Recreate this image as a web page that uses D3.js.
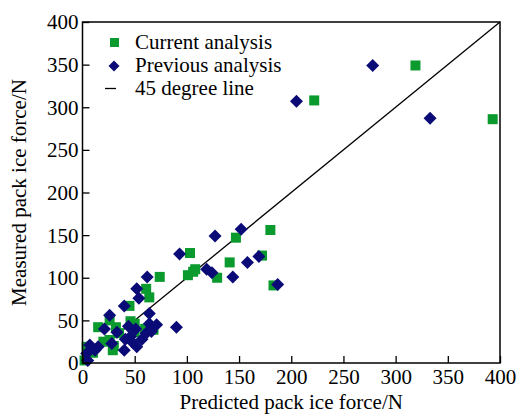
<!DOCTYPE html>
<html>
<head>
<meta charset="utf-8">
<style>
  body { margin: 0; background: #fff; }
  svg text { font-family: "Liberation Serif", "Times New Roman", serif; fill: #000; }
</style>
</head>
<body>
<div id="chart"></div>
<script src="https://cdn.jsdelivr.net/npm/d3@7"></script>
<script>
// current analysis (green squares): [predicted, measured]
var currentData = [
  [2,3],[4,19],[10,12],[15,42],[20,25],[26,27],[26,50],[29,15],[32,42],[35,35],
  [45,67],[46,49],[50,46],[50,36],[61,87],[64,77],[74,101],[68,39],[30,20],[60,40],
  [103,129],[101,103],[106,107],[108,110],[129,100],[141,118],[147,147],[180,156],
  [172,126],[183,91],[222,308],[319,349],[393,286]
];
// previous analysis (blue diamonds)
var previousData = [
  [4,11],[5,3],[7,21],[12,15],[15,19],[21,40],[26,56],[28,23],[33,36],[40,15],
  [41,28],[40,67],[44,43],[46,31],[48,24],[51,40],[52,19],[52,87],[54,76],[57,28],
  [61,35],[64,46],[64,58],[66,37],[71,45],[62,101],[90,42],[93,128],[119,110],
  [124,106],[127,149],[144,101],[152,157],[158,118],[169,125],[187,92],[205,307],
  [278,349],[333,287]
];
var xTicks = [0,50,100,150,200,250,300,350,400];
var yTicks = [0,50,100,150,200,250,300,350,400];
var legendLabels = ["Current analysis", "Previous analysis", "45 degree line"];

var width = 524, height = 415;
var margin = {left: 82.5, right: 24, top: 22, bottom: 52};
var fontSize = 21;

var svg = d3.select("#chart").append("svg")
    .attr("width", width)
    .attr("height", height);

var x = d3.scaleLinear().domain([0,400]).range([margin.left, width - margin.right]);
var y = d3.scaleLinear().domain([0,400]).range([height - margin.bottom, margin.top]);

function diamondPath(r){
  return "M0," + (-r) + "L" + r + ",0L0," + r + "L" + (-r) + ",0Z";
}

// 45 degree line
svg.append("line")
   .attr("x1", x(0)).attr("y1", y(0))
   .attr("x2", x(400)).attr("y2", y(400))
   .attr("stroke", "#000")
   .attr("stroke-width", 1.3);

// points
svg.append("g").selectAll("rect")
   .data(currentData)
   .enter().append("rect")
   .attr("x", function(d){ return x(d[0]) - 5; })
   .attr("y", function(d){ return y(d[1]) - 5; })
   .attr("width", 10)
   .attr("height", 10)
   .attr("fill", "#0a9a2e");

svg.append("g").selectAll("path")
   .data(previousData)
   .enter().append("path")
   .attr("d", diamondPath(6.5))
   .attr("transform", function(d){ return "translate(" + x(d[0]) + "," + y(d[1]) + ")"; })
   .attr("fill", "#0b0b78");

// axes
var xAxis = d3.axisBottom(x).tickValues(xTicks).tickSize(-7).tickPadding(8);
var yAxis = d3.axisLeft(y).tickValues(yTicks).tickSize(-7).tickPadding(4);

var gx = svg.append("g")
   .attr("transform", "translate(0," + y(0) + ")")
   .call(xAxis);
var gy = svg.append("g")
   .attr("transform", "translate(" + x(0) + ",0)")
   .call(yAxis);

[gx, gy].forEach(function(g){
  g.select(".domain").remove();
  g.selectAll("line").attr("stroke", "#000").attr("stroke-width", 1.3);
  g.selectAll("text").attr("font-size", fontSize).attr("font-family", "Liberation Serif");
});
gx.selectAll("text").attr("dy", "0.6em");
gy.selectAll("text").attr("dy", "0.33em");

// frame
svg.append("rect")
   .attr("x", x(0)).attr("y", y(400))
   .attr("width", x(400) - x(0))
   .attr("height", y(0) - y(400))
   .attr("fill", "none")
   .attr("stroke", "#000")
   .attr("stroke-width", 1.5);

// axis titles
svg.append("text")
   .attr("x", (x(0) + x(400)) / 2)
   .attr("y", 409)
   .attr("text-anchor", "middle")
   .attr("font-size", fontSize)
   .text("Predicted pack ice force/N");

svg.append("text")
   .attr("transform", "translate(26," + ((y(0) + y(400)) / 2) + ") rotate(-90)")
   .attr("text-anchor", "middle")
   .attr("font-size", fontSize)
   .text("Measured pack ice force/N");

// legend
var legend = svg.append("g");
legend.append("rect")
   .attr("x", 110).attr("y", 38).attr("width", 9).attr("height", 9)
   .attr("fill", "#0a9a2e");
legend.append("path")
   .attr("d", diamondPath(5.5))
   .attr("transform", "translate(114,66)")
   .attr("fill", "#0b0b78");
legend.append("line")
   .attr("x1", 105).attr("x2", 116).attr("y1", 88.5).attr("y2", 88.5)
   .attr("stroke", "#000").attr("stroke-width", 1.3);

legend.selectAll(".legend-label")
   .data(legendLabels)
   .enter().append("text")
   .attr("class", "legend-label")
   .attr("x", 135)
   .attr("y", function(d, i){ return 48.5 + i * 23.3; })
   .attr("font-size", fontSize)
   .text(function(d){ return d; });
</script>
</body>
</html>
